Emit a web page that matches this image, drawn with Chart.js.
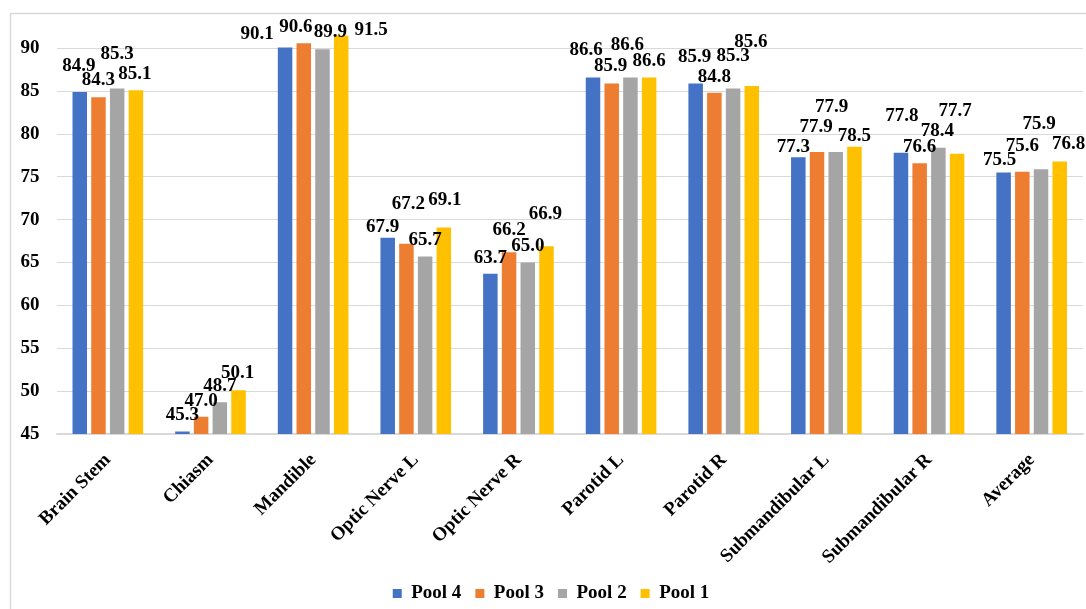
<!DOCTYPE html>
<html>
<head>
<meta charset="utf-8">
<script src="https://cdn.jsdelivr.net/npm/chart.js@4.4.1/dist/chart.umd.min.js"></script>
<style>
  html, body { margin: 0; padding: 0; background: #fff; }
  #wrap { position: relative; width: 1086px; height: 609px; }
</style>
</head>
<body>
<div id="wrap"><canvas id="c"></canvas></div>
<script>
// Organ categories and per-pool scores
const categories = ['Brain Stem', 'Chiasm', 'Mandible', 'Optic Nerve L', 'Optic Nerve R',
  'Parotid L', 'Parotid R', 'Submandibular L', 'Submandibular R', 'Average'];
const pool4 = [84.9, 45.3, 90.1, 67.9, 63.7, 86.6, 85.9, 77.3, 77.8, 75.5];
const pool3 = [84.3, 47.0, 90.6, 67.2, 66.2, 85.9, 84.8, 77.9, 76.6, 75.6];
const pool2 = [85.3, 48.7, 89.9, 65.7, 65.0, 86.6, 85.3, 77.9, 78.4, 75.9];
const pool1 = [85.1, 50.1, 91.5, 69.1, 66.9, 86.6, 85.6, 78.5, 77.7, 76.8];
const yTicks = [45, 50, 55, 60, 65, 70, 75, 80, 85, 90];

// Small per-label nudges (px) so overlapping value labels stay readable
const nudge4 = [[-1,-10],[0,0],[-28,3],[-5,5],[0,0],[-7,-11],[-1,-10],[-5,6],[1,-21],[-4,4]];
const nudge3 = [[0,-1],[0,0],[-8,0],[2,-24],[0,-6],[-1,-1],[0,0],[-1,-9],[0,0],[0,-10]];
const nudge2 = [[0,-18],[0,0],[8,-1],[0,0],[0,0],[-3,-16],[0,-16],[-4,-29],[-1,-1],[-2,-29]];
const nudge1 = [[-1,0],[-1,-1],[30,11],[1,-11],[-1,-16],[0,0],[-1,-28],[0,5],[-2,-27],[9,-1]];
const nudges = [nudge4, nudge3, nudge2, nudge1];

const FONT = '"Liberation Serif", "Times New Roman", serif';

// Light frame around the chart
const frame = {
  id: 'frame',
  beforeDraw(chart) {
    const ctx = chart.ctx;
    ctx.save();
    ctx.fillStyle = '#ffffff';
    ctx.fillRect(0, 0, chart.width, chart.height);
    ctx.strokeStyle = '#d9d9d9';
    ctx.lineWidth = 1.5;
    ctx.beginPath();
    ctx.moveTo(10.5, chart.height);
    ctx.lineTo(10.5, 13.5);
    ctx.lineTo(chart.width, 13.5);
    ctx.stroke();
    ctx.restore();
  }
};

// Value labels above each bar
const valueLabels = {
  id: 'valueLabels',
  afterDatasetsDraw(chart) {
    const ctx = chart.ctx;
    ctx.save();
    ctx.font = 'bold 19px ' + FONT;
    ctx.fillStyle = '#000';
    ctx.textAlign = 'center';
    ctx.textBaseline = 'middle';
    chart.data.datasets.forEach((ds, i) => {
      const meta = chart.getDatasetMeta(i);
      meta.data.forEach((bar, j) => {
        const [dx, dy] = nudges[i][j];
        ctx.fillText(ds.data[j].toFixed(1), bar.x + dx, bar.y - 16 + dy);
      });
    });
    ctx.restore();
  }
};

Chart.defaults.font.family = FONT;
Chart.defaults.font.weight = 'bold';
Chart.defaults.font.size = 19;
Chart.defaults.color = '#000';

new Chart(document.getElementById('c'), {
  type: 'bar',
  data: {
    labels: categories,
    datasets: [
      { label: 'Pool 4', data: pool4, backgroundColor: '#4472C4' },
      { label: 'Pool 3', data: pool3, backgroundColor: '#ED7D31' },
      { label: 'Pool 2', data: pool2, backgroundColor: '#A5A5A5' },
      { label: 'Pool 1', data: pool1, backgroundColor: '#FFC000' }
    ]
  },
  options: {
    responsive: true,
    maintainAspectRatio: false,
    animation: false,
    datasets: { bar: { categoryPercentage: 0.729, barPercentage: 0.775 } },
    layout: { padding: { left: 19, right: 3, top: 14, bottom: -4 } },
    plugins: {
      legend: {
        position: 'bottom',
        labels: { boxWidth: 9, boxHeight: 9, padding: 14, font: { size: 19, weight: 'bold' }, color: '#000' }
      },
      tooltip: { enabled: false }
    },
    scales: {
      x: {
        grid: { display: false, drawTicks: false },
        border: { color: '#d9d9d9', width: 1.5 },
        ticks: { autoSkip: false, maxRotation: 45, minRotation: 45, padding: 15, font: { size: 19, weight: 'bold' }, color: '#000' },
        afterFit(scale) {
          scale.height = 136;
          scale.paddingLeft = 0;
          scale.paddingRight = 0;
        }
      },
      y: {
        min: 45,
        max: 94,
        afterBuildTicks(scale) { scale.ticks = yTicks.map(v => ({ value: v })); },
        grid: { color: '#d9d9d9', lineWidth: 1, drawTicks: false },
        border: { display: false },
        ticks: { padding: 17, font: { size: 19, weight: 'bold' }, color: '#000' },
        afterFit(scale) {
          scale.width = 37.5;
          scale.paddingTop = 0;
          scale.paddingBottom = 0;
        }
      }
    }
  },
  plugins: [frame, valueLabels]
});
</script>
</body>
</html>
